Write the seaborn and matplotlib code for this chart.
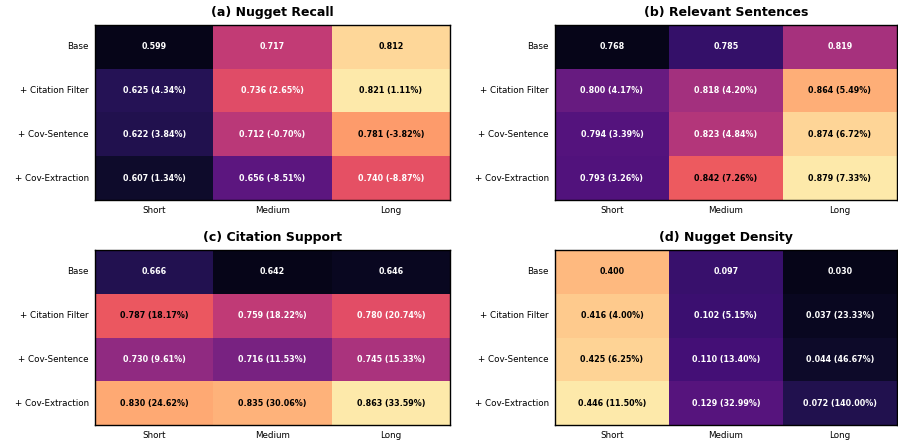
import numpy as np
import pandas as pd
import matplotlib
matplotlib.use("Agg")
import matplotlib.pyplot as plt
import seaborn as sns

plt.rcParams["font.family"] = ["DejaVu Sans"]

rows = ["Base", "+ Citation Filter", "+ Cov-Sentence", "+ Cov-Extraction"]
cols = ["Short", "Medium", "Long"]

titles = ["(a) Nugget Recall", "(b) Relevant Sentences",
          "(c) Citation Support", "(d) Nugget Density"]

nugget_recall = [[0.599, 0.717, 0.812],
                 [0.625, 0.736, 0.821],
                 [0.622, 0.712, 0.781],
                 [0.607, 0.656, 0.740]]
nugget_recall_pct = [[None, None, None],
                     [4.34, 2.65, 1.11],
                     [3.84, -0.70, -3.82],
                     [1.34, -8.51, -8.87]]

relevant_sentences = [[0.768, 0.785, 0.819],
                      [0.800, 0.818, 0.864],
                      [0.794, 0.823, 0.874],
                      [0.793, 0.842, 0.879]]
relevant_sentences_pct = [[None, None, None],
                          [4.17, 4.20, 5.49],
                          [3.39, 4.84, 6.72],
                          [3.26, 7.26, 7.33]]

citation_support = [[0.666, 0.642, 0.646],
                    [0.787, 0.759, 0.780],
                    [0.730, 0.716, 0.745],
                    [0.830, 0.835, 0.863]]
citation_support_pct = [[None, None, None],
                        [18.17, 18.22, 20.74],
                        [9.61, 11.53, 15.33],
                        [24.62, 30.06, 33.59]]

nugget_density = [[0.400, 0.097, 0.030],
                  [0.416, 0.102, 0.037],
                  [0.425, 0.110, 0.044],
                  [0.446, 0.129, 0.072]]
nugget_density_pct = [[None, None, None],
                      [4.00, 5.15, 23.33],
                      [6.25, 13.40, 46.67],
                      [11.50, 32.99, 140.00]]

panels = [(nugget_recall, nugget_recall_pct),
          (relevant_sentences, relevant_sentences_pct),
          (citation_support, citation_support_pct),
          (nugget_density, nugget_density_pct)]

W, H = 898, 445
fig = plt.figure(figsize=(W / 100, H / 100), dpi=100)

# axes boxes in pixels: (left, top, right, bottom)
boxes = [(95, 25, 450, 200), (555, 25, 897, 200),
         (95, 250, 450, 425), (555, 250, 897, 425)]

for (vals, pct), title, (l, t, r, b) in zip(panels, titles, boxes):
    ax = fig.add_axes([l / W, 1 - b / H, (r - l) / W, (b - t) / H])
    df = pd.DataFrame(vals, index=rows, columns=cols)
    annot = np.empty(df.shape, dtype=object)
    for i in range(df.shape[0]):
        for j in range(df.shape[1]):
            if pct[i][j] is None:
                annot[i, j] = f"{vals[i][j]:.3f}"
            else:
                annot[i, j] = f"{vals[i][j]:.3f} ({pct[i][j]:.2f}%)"
    lo, hi = df.values.min(), df.values.max()
    margin = 0.05 * (hi - lo)
    sns.heatmap(df, ax=ax, cmap="magma", annot=annot, fmt="", cbar=False,
                vmin=lo - margin, vmax=hi + margin,
                annot_kws={"fontsize": 5.8, "fontweight": "bold"})
    # text colour: dark text on the lighter cells
    flat = df.values.ravel()
    for txt, v in zip(ax.texts, flat):
        txt.set_color("black" if (v - lo) / (hi - lo) > 0.645 else "white")
    ax.set_title(title, fontsize=9, fontweight="bold", pad=6.5)
    ax.tick_params(axis="both", length=0, labelsize=6.3, pad=4.5)
    ax.set_yticklabels(rows, rotation=0)
    ax.set_xticklabels(cols, rotation=0)
    ax.set_xlabel("")
    ax.set_ylabel("")
    for s in ax.spines.values():
        s.set_visible(True)
        s.set_color("black")
        s.set_linewidth(1.0)

fig.savefig("out.png", dpi=100)
